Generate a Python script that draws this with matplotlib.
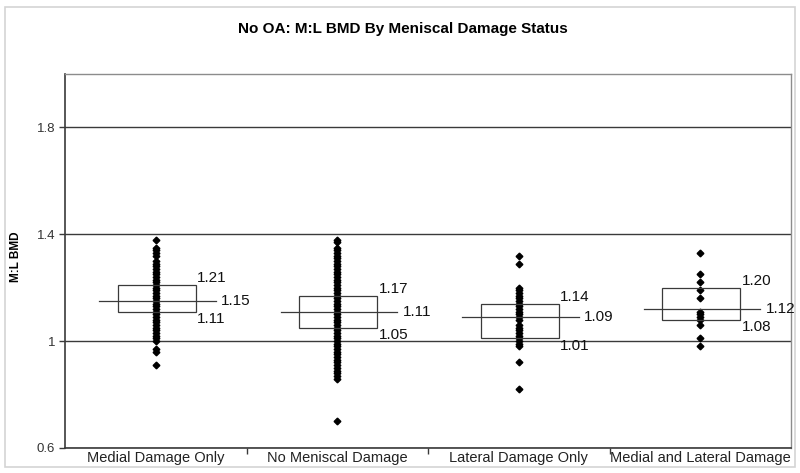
import matplotlib
matplotlib.use("Agg")
import matplotlib.pyplot as plt
from matplotlib.patches import Rectangle

plt.rcParams['font.family'] = ['Liberation Sans', 'DejaVu Sans']

categories = ["Medial Damage Only", "No Meniscal Damage",
              "Lateral Damage Only", "Medial and Lateral Damage"]
q1 = [1.11, 1.05, 1.01, 1.08]
median = [1.15, 1.11, 1.09, 1.12]
q3 = [1.21, 1.17, 1.14, 1.20]
q1_text = ["1.11", "1.05", "1.01", "1.08"]
median_text = ["1.15", "1.11", "1.09", "1.12"]
q3_text = ["1.21", "1.17", "1.14", "1.20"]

medial_only = [1.38, 1.35, 1.34, 1.33, 1.32, 1.30, 1.29, 1.28, 1.27, 1.26,
               1.25, 1.24, 1.23, 1.22, 1.21, 1.20, 1.19, 1.18, 1.17, 1.16,
               1.15, 1.14, 1.13, 1.12, 1.11, 1.10, 1.09, 1.08, 1.07, 1.06,
               1.05, 1.04, 1.03, 1.02, 1.01, 1.00, 0.97, 0.96, 0.91]
no_damage = [1.38, 1.37, 1.35, 1.34, 1.33, 1.32, 1.31, 1.30, 1.29, 1.28,
             1.27, 1.26, 1.25, 1.24, 1.23, 1.22, 1.21, 1.20, 1.19, 1.18,
             1.17, 1.16, 1.15, 1.14, 1.13, 1.12, 1.11, 1.10, 1.09, 1.08,
             1.07, 1.06, 1.05, 1.04, 1.03, 1.02, 1.01, 1.00, 0.99, 0.98,
             0.97, 0.96, 0.95, 0.94, 0.93, 0.92, 0.91, 0.90, 0.89, 0.88,
             0.87, 0.86, 0.70]
lateral_only = [1.32, 1.29, 1.20, 1.19, 1.18, 1.17, 1.16, 1.15, 1.14, 1.13,
                1.12, 1.11, 1.10, 1.09, 1.08, 1.06, 1.05, 1.04, 1.03, 1.02,
                1.01, 1.00, 0.99, 0.98, 0.92, 0.82]
medial_lateral = [1.33, 1.25, 1.22, 1.19, 1.16, 1.11, 1.10, 1.09, 1.08,
                  1.06, 1.01, 0.98]
points = [medial_only, no_damage, lateral_only, medial_lateral]

fig = plt.figure(figsize=(8, 4.73), dpi=100)
fig.patches.append(Rectangle((5/800, 6/473), 790/800, 460/473,
                             transform=fig.transFigure, fill=False,
                             edgecolor="#d4d4d4", linewidth=1.2))
ax = fig.add_axes([0.08125, 0.0529, 0.9075, 0.7907])

dark = "#3a3a3a"
for i, vals in enumerate(points):
    ax.plot([i] * len(vals), vals, linestyle="none", marker="D",
            markersize=3.4, color="black", zorder=3)
    # box and median line
    ax.add_patch(Rectangle((i - 0.21, q1[i]), 0.43, q3[i] - q1[i],
                           fill=False, edgecolor=dark, linewidth=0.9,
                           zorder=4))
    ax.plot([i - 0.31, i + 0.33], [median[i], median[i]], color=dark,
            linewidth=0.9, zorder=4)
    ax.annotate(q3_text[i], (i + 0.22, q3[i]), xytext=(1, 5),
                textcoords="offset points", fontsize=11, va="center",
                ha="left", color="#111111")
    ax.annotate(median_text[i], (i + 0.33, median[i]), xytext=(4, 0),
                textcoords="offset points", fontsize=11, va="center",
                ha="left", color="#111111")
    ax.annotate(q1_text[i], (i + 0.22, q1[i]), xytext=(1, -5.5),
                textcoords="offset points", fontsize=11, va="center",
                ha="left", color="#111111")

ax.set_xlim(-0.5, 3.5)
ax.set_ylim(0.6, 2.0)
ax.set_yticks([0.6, 1.0, 1.4, 1.8])
ax.set_yticklabels(["0.6", "1", "1.4", "1.8"], fontsize=9.5, color="#333333")
ax.yaxis.grid(True, color=dark, linewidth=1.0)
ax.set_axisbelow(True)
ax.tick_params(axis="y", length=4, width=1, color=dark, pad=3)

ax.set_xticks([0.5, 1.5, 2.5])
ax.set_xticklabels([])
ax.tick_params(axis="x", which="major", length=4, width=1, color=dark)
ax.set_xticks(range(4), minor=True)
ax.set_xticklabels(categories, minor=True, fontsize=10.5, color="#222222")
ax.tick_params(axis="x", which="minor", length=0, pad=2)

for side in ["left", "bottom"]:
    ax.spines[side].set_color(dark)
    ax.spines[side].set_linewidth(1.2)
for side in ["top", "right"]:
    ax.spines[side].set_color("#8c8c8c")
    ax.spines[side].set_linewidth(1.0)

ax.set_ylabel("M:L BMD", fontsize=8.5, fontweight="bold")
ax.yaxis.set_label_coords(-0.059, 0.51)
fig.text(0.503, 0.9387, "No OA: M:L BMD By Meniscal Damage Status",
         ha="center", va="center", fontsize=11, fontweight="bold")

fig.savefig("out.png", dpi=100)
